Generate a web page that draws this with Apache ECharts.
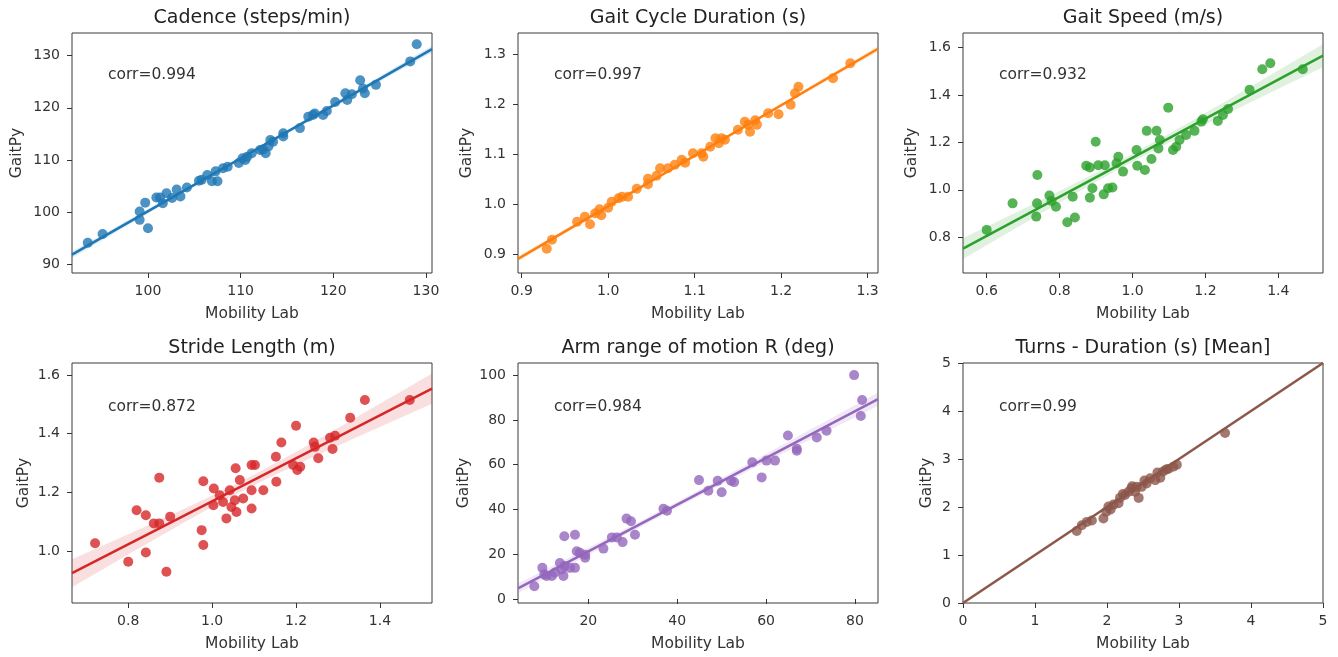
<!DOCTYPE html>
<html>
<head>
<meta charset="utf-8">
<script src="https://cdn.jsdelivr.net/npm/echarts@6/dist/echarts.min.js"></script>
<style>
html, body { margin: 0; padding: 0; background: #fff; }
#main { width: 1338px; height: 657px; }
</style>
</head>
<body>
<div id="main"></div>
<script>
// values (Mobility Lab vs GaitPy)
var cadenceX = [93.5, 95.1, 99.1, 99.1, 99.7, 100.0, 100.9, 101.6, 102.0, 102.6, 103.1, 103.5, 104.2, 105.8, 106.4, 106.9, 107.3, 107.5, 108.1, 108.6, 109.8, 110.2, 110.7, 111.2, 112.1, 112.7, 113.0, 113.5, 114.6, 114.6, 116.4, 117.3, 118.0, 118.9, 119.3, 120.2, 121.3, 121.5, 122.0, 122.9, 123.2, 123.4, 124.6, 128.3, 129.0, 101.3, 105.5, 110.5, 112.4, 113.2, 117.8];
var cadenceY = [94.1, 95.8, 98.5, 100.1, 101.8, 96.9, 102.8, 101.7, 103.6, 102.7, 104.3, 103.0, 104.7, 106.2, 107.1, 105.9, 107.8, 105.9, 108.4, 108.7, 109.4, 110.3, 110.6, 111.3, 111.9, 111.3, 112.6, 113.5, 115.1, 114.5, 116.1, 118.3, 118.9, 118.6, 119.4, 121.1, 122.8, 121.5, 122.6, 125.3, 123.7, 122.8, 124.4, 128.9, 132.2, 102.8, 106.0, 110.0, 112.0, 113.8, 118.6];

var cycleX = [0.929, 0.935, 0.964, 0.973, 0.979, 0.985, 0.990, 0.992, 1.000, 1.004, 1.012, 1.016, 1.023, 1.033, 1.046, 1.046, 1.056, 1.060, 1.069, 1.077, 1.085, 1.089, 1.098, 1.108, 1.110, 1.118, 1.124, 1.128, 1.131, 1.135, 1.150, 1.158, 1.162, 1.164, 1.170, 1.172, 1.185, 1.197, 1.211, 1.216, 1.220, 1.260, 1.280];
var cycleY = [0.911, 0.929, 0.965, 0.975, 0.960, 0.982, 0.990, 0.978, 0.993, 1.005, 1.012, 1.015, 1.015, 1.031, 1.040, 1.051, 1.057, 1.072, 1.072, 1.079, 1.089, 1.083, 1.102, 1.102, 1.095, 1.115, 1.132, 1.122, 1.132, 1.129, 1.149, 1.165, 1.159, 1.145, 1.168, 1.159, 1.182, 1.180, 1.199, 1.222, 1.235, 1.252, 1.282];

var speedX = [0.600, 0.671, 0.739, 0.738, 0.736, 0.772, 0.790, 0.778, 0.821, 0.842, 0.836, 0.883, 0.890, 0.873, 0.883, 0.899, 0.906, 0.924, 0.921, 0.933, 0.945, 0.961, 0.956, 0.974, 1.011, 1.013, 1.034, 1.052, 1.039, 1.066, 1.075, 1.071, 1.098, 1.111, 1.120, 1.129, 1.147, 1.170, 1.189, 1.193, 1.234, 1.248, 1.262, 1.321, 1.356, 1.378, 1.467];
var speedY = [0.831, 0.943, 1.063, 0.943, 0.887, 0.976, 0.929, 0.953, 0.863, 0.883, 0.971, 0.967, 1.007, 1.102, 1.094, 1.203, 1.104, 1.104, 0.981, 1.007, 1.010, 1.140, 1.112, 1.077, 1.168, 1.102, 1.084, 1.130, 1.249, 1.249, 1.210, 1.175, 1.347, 1.168, 1.182, 1.210, 1.232, 1.249, 1.288, 1.298, 1.291, 1.316, 1.341, 1.422, 1.509, 1.534, 1.509];

var strideX = [0.721, 0.800, 0.820, 0.842, 0.842, 0.861, 0.874, 0.874, 0.891, 0.900, 0.975, 0.979, 0.979, 1.003, 1.004, 1.018, 1.026, 1.034, 1.042, 1.046, 1.054, 1.056, 1.058, 1.066, 1.074, 1.094, 1.102, 1.094, 1.094, 1.122, 1.152, 1.153, 1.165, 1.193, 1.200, 1.203, 1.210, 1.242, 1.245, 1.253, 1.281, 1.293, 1.287, 1.329, 1.364, 1.471];
var strideY = [1.026, 0.963, 1.139, 1.122, 0.995, 1.094, 1.094, 1.250, 0.929, 1.117, 1.071, 1.020, 1.238, 1.156, 1.213, 1.190, 1.167, 1.111, 1.207, 1.150, 1.173, 1.282, 1.133, 1.242, 1.179, 1.293, 1.293, 1.207, 1.145, 1.207, 1.321, 1.236, 1.370, 1.293, 1.427, 1.276, 1.287, 1.370, 1.355, 1.316, 1.386, 1.393, 1.348, 1.454, 1.515, 1.515];

var armX = [7.85, 9.65, 10.1, 10.6, 11.8, 12.5, 13.6, 14.0, 14.4, 14.7, 14.6, 15.9, 17.0, 17.0, 17.4, 18.1, 19.3, 19.3, 23.4, 25.3, 26.4, 27.7, 28.6, 29.6, 30.5, 36.9, 37.7, 44.9, 47.0, 49.1, 50.0, 52.1, 52.8, 56.9, 59.0, 60.1, 62.0, 64.9, 66.9, 66.9, 71.4, 73.6, 79.8, 81.6, 81.3];
var armY = [5.7, 13.9, 11.0, 10.3, 10.3, 11.8, 16.1, 13.2, 10.3, 14.7, 28.0, 13.9, 13.9, 28.7, 21.3, 20.6, 18.4, 19.8, 22.5, 27.5, 27.5, 25.4, 35.9, 34.7, 28.7, 40.3, 39.4, 53.1, 48.3, 52.8, 47.7, 52.8, 52.2, 61.1, 54.3, 61.8, 61.8, 73.0, 67.1, 66.2, 72.1, 75.1, 100.0, 88.9, 81.7];

var turnsX = [1.58, 1.65, 1.72, 1.79, 1.95, 1.99, 2.02, 2.09, 2.16, 2.18, 2.25, 2.30, 2.34, 2.39, 2.41, 2.44, 2.48, 2.55, 2.60, 2.67, 2.74, 2.78, 2.85, 2.92, 2.97, 3.64, 2.05, 2.22, 2.35, 2.52, 2.70, 2.82];
var turnsY = [1.50, 1.62, 1.69, 1.72, 1.76, 1.90, 2.01, 2.05, 2.08, 2.19, 2.25, 2.32, 2.39, 2.32, 2.42, 2.19, 2.42, 2.49, 2.60, 2.56, 2.61, 2.74, 2.79, 2.84, 2.88, 3.54, 1.95, 2.27, 2.43, 2.55, 2.72, 2.78];

var titles = ['Cadence (steps/min)', 'Gait Cycle Duration (s)', 'Gait Speed (m/s)', 'Stride Length (m)', 'Arm range of motion R (deg)', 'Turns - Duration (s) [Mean]'];
var corrLabels = ['corr=0.994', 'corr=0.997', 'corr=0.932', 'corr=0.872', 'corr=0.984', 'corr=0.99'];
var xTickValues = [[100, 110, 120, 130], [0.9, 1.0, 1.1, 1.2, 1.3], [0.6, 0.8, 1.0, 1.2, 1.4], [0.8, 1.0, 1.2, 1.4], [20, 40, 60, 80], [0, 1, 2, 3, 4, 5]];
var yTickValues = [[90, 100, 110, 120, 130], [0.9, 1.0, 1.1, 1.2, 1.3], [0.8, 1.0, 1.2, 1.4, 1.6], [1.0, 1.2, 1.4, 1.6], [0, 20, 40, 60, 80, 100], [0, 1, 2, 3, 4, 5]];
var tickDecimals = [0, 1, 1, 1, 0, 0];

var xs = [cadenceX, cycleX, speedX, strideX, armX, turnsX];
var ys = [cadenceY, cycleY, speedY, strideY, armY, turnsY];
var colors = ['#1f77b4', '#ff7f0e', '#2ca02c', '#d62728', '#9467bd', '#8c564b'];

// panel boxes and axis extents
var cells = [
  { left: 72,  top: 33,  xr: [91.8, 130.65],   yr: [88.3, 134.35],   yGap: 47 },
  { left: 518, top: 33,  xr: [0.8957, 1.312],  yr: [0.8626, 1.3426], yGap: 43 },
  { left: 963, top: 33,  xr: [0.535, 1.5225],  yr: [0.649, 1.662],   yGap: 43 },
  { left: 72,  top: 363, xr: [0.666, 1.524],   yr: [0.8225, 1.641],  yGap: 40 },
  { left: 518, top: 363, xr: [4.18, 85.17],    yr: [-1.8, 105.4],    yGap: 46 },
  { left: 963, top: 363, xr: [0, 5],           yr: [0, 5],           yGap: 28 }
];
var W = 360, H = 240;
var FONT = '"DejaVu Sans", sans-serif';
var TEXT = '#333';

function fit(x, y) {
  var n = x.length, mx = 0, my = 0, sxx = 0, sxy = 0, sse = 0;
  for (var i = 0; i < n; i++) { mx += x[i]; my += y[i]; }
  mx /= n; my /= n;
  for (i = 0; i < n; i++) { sxx += (x[i] - mx) * (x[i] - mx); sxy += (x[i] - mx) * (y[i] - my); }
  var b = sxy / sxx, a = my - b * mx;
  for (i = 0; i < n; i++) { var r = y[i] - a - b * x[i]; sse += r * r; }
  return { a: a, b: b, s: Math.sqrt(sse / (n - 2)), n: n, mx: mx, sxx: sxx };
}

var grid = [], xAxis = [], yAxis = [], series = [], graphic = [];

cells.forEach(function (c, i) {
  var dec = tickDecimals[i];
  var fmt = function (v) { return v.toFixed(dec); };
  grid.push({ left: c.left, top: c.top, width: W, height: H, show: true, borderColor: '#3a3a3a', borderWidth: 1 });
  xAxis.push({
    type: 'value', gridIndex: i, min: c.xr[0], max: c.xr[1],
    name: 'Mobility Lab', nameLocation: 'middle', nameGap: 33,
    nameTextStyle: { color: TEXT, fontSize: 15.5, fontFamily: FONT },
    axisLine: { show: false }, splitLine: { show: false },
    axisTick: { show: true, length: 5, customValues: xTickValues[i], lineStyle: { color: '#333' } },
    axisLabel: { customValues: xTickValues[i], formatter: fmt, color: TEXT, fontSize: 14, fontFamily: FONT, margin: 11 }
  });
  yAxis.push({
    type: 'value', gridIndex: i, min: c.yr[0], max: c.yr[1],
    name: 'GaitPy', nameLocation: 'middle', nameGap: c.yGap,
    nameTextStyle: { color: TEXT, fontSize: 15.5, fontFamily: FONT },
    axisLine: { show: false }, splitLine: { show: false },
    axisTick: { show: true, length: 5, customValues: yTickValues[i], lineStyle: { color: '#333' } },
    axisLabel: { customValues: yTickValues[i], formatter: fmt, color: TEXT, fontSize: 14, fontFamily: FONT, margin: 12 }
  });

  var pts = xs[i].map(function (v, k) { return [v, ys[i][k]]; });
  series.push({
    type: 'scatter', xAxisIndex: i, yAxisIndex: i, data: pts, symbolSize: 10, z: 2,
    itemStyle: { color: colors[i], opacity: 0.8 }
  });

  var line;
  if (i === 5) {
    // identity line y = x
    line = [[c.xr[0], c.xr[0]], [c.xr[1], c.xr[1]]];
  } else {
    var f = fit(xs[i], ys[i]);
    line = [[c.xr[0], f.a + f.b * c.xr[0]], [c.xr[1], f.a + f.b * c.xr[1]]];
    var band = [];
    for (var k = 0; k <= 40; k++) {
      var xv = c.xr[0] + (c.xr[1] - c.xr[0]) * k / 40;
      var se = 1.8 * f.s * Math.sqrt(1 / f.n + (xv - f.mx) * (xv - f.mx) / f.sxx);
      var yv = f.a + f.b * xv;
      band.push([xv, yv - se, yv + se]);
    }
    series.push({
      type: 'custom', xAxisIndex: i, yAxisIndex: i, silent: true, z: 1, clip: true,
      data: [band[0]],
      renderItem: (function (band, col) {
        return function (params, api) {
          var poly = [];
          band.forEach(function (b) { poly.push(api.coord([b[0], b[2]])); });
          band.slice().reverse().forEach(function (b) { poly.push(api.coord([b[0], b[1]])); });
          return { type: 'polygon', shape: { points: poly }, style: { fill: col, opacity: 0.15 } };
        };
      })(band, colors[i])
    });
  }
  series.push({
    type: 'line', xAxisIndex: i, yAxisIndex: i, data: line, showSymbol: false, silent: true, z: 3,
    lineStyle: { color: colors[i], width: 2.5 }
  });

  graphic.push({
    type: 'text', x: c.left + W / 2, y: c.top - 15,
    style: { text: titles[i], fill: '#222', font: '19px ' + FONT, align: 'center', verticalAlign: 'middle' }
  });
  graphic.push({
    type: 'text', x: c.left + 36, y: c.top + (i < 3 ? 42 : 44),
    style: { text: corrLabels[i], fill: TEXT, font: '15.5px ' + FONT, align: 'left', verticalAlign: 'middle' }
  });
});

var chart = echarts.init(document.getElementById('main'));
chart.setOption({
  backgroundColor: '#fff',
  animation: false,
  grid: grid,
  xAxis: xAxis,
  yAxis: yAxis,
  series: series,
  graphic: graphic
});

window.addEventListener('resize', function () {
  chart.resize();
});
</script>
</body>
</html>
